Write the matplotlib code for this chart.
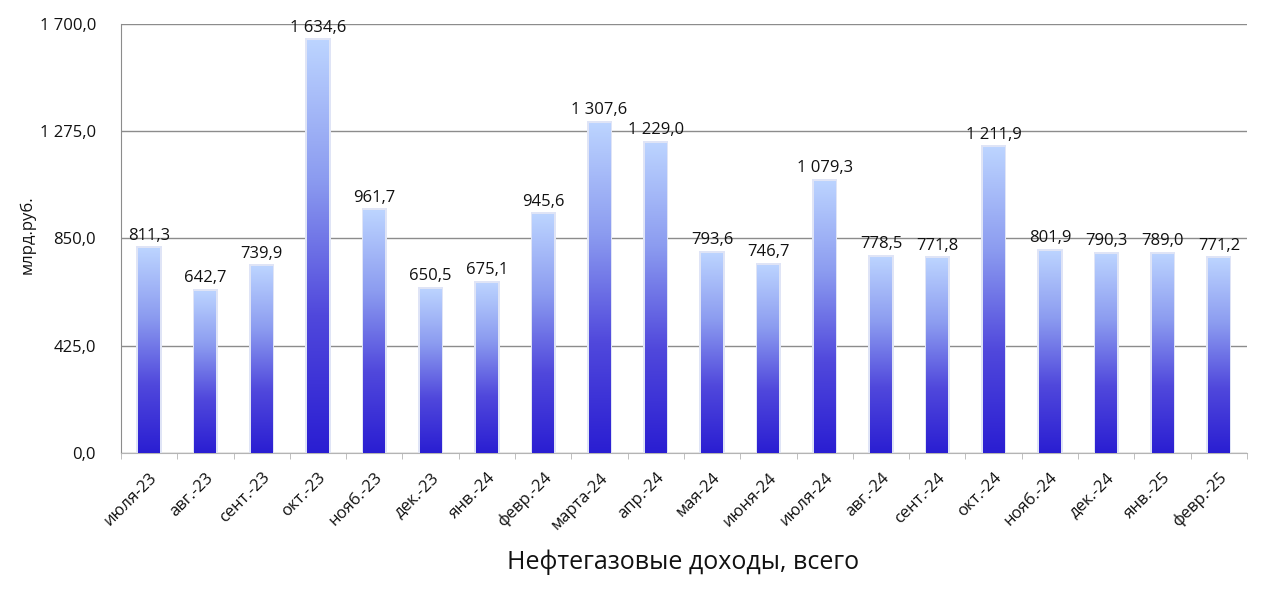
import numpy as np
import matplotlib.pyplot as plt
from matplotlib.colors import LinearSegmentedColormap
from matplotlib.ticker import FuncFormatter

plt.rcParams['font.family'] = ['Open Sans', 'DejaVu Sans']

months = ['июля-23', 'авг.-23', 'сент.-23', 'окт.-23', 'нояб.-23', 'дек.-23',
          'янв.-24', 'февр.-24', 'марта-24', 'апр.-24', 'мая-24', 'июня-24',
          'июля-24', 'авг.-24', 'сент.-24', 'окт.-24', 'нояб.-24', 'дек.-24',
          'янв.-25', 'февр.-25']
revenue = [811.3, 642.7, 739.9, 1634.6, 961.7, 650.5, 675.1, 945.6, 1307.6, 1229.0,
           793.6, 746.7, 1079.3, 778.5, 771.8, 1211.9, 801.9, 790.3, 789.0, 771.2]


def fmt(v, pos=None):
    s = f'{v:,.1f}'.replace(',', ' ').replace('.', ',')
    return s


fig = plt.figure(figsize=(12.8, 5.98), dpi=100)
ax = fig.add_axes([0.0945, 0.2425, 0.8797, 0.7174])

x = np.arange(len(months))
bars = ax.bar(x, revenue, width=0.39, color='none', edgecolor='none', zorder=3)

cmap = LinearSegmentedColormap.from_list('grad', ['#bcd4ff', '#8c9cf0', '#5048dc', '#2a1ed2'])
grad = np.linspace(0, 1, 256).reshape(-1, 1)
for b in bars:
    bx, bw, bh = b.get_x(), b.get_width(), b.get_height()
    # soft glow around the bar
    ax.bar(bx + bw / 2, bh + 8, width=bw + 0.06, bottom=0, color='#dfe4f6', zorder=2)
    im = ax.imshow(grad, cmap=cmap, aspect='auto', extent=[bx, bx + bw, 0, bh],
                   origin='upper', zorder=3)
    im.set_clip_path(b)
    ax.text(bx + bw / 2, bh + 18, fmt(bh), ha='center', va='bottom', fontsize=12,
            color='#111111', zorder=4)

ax.set_xlim(-0.5, len(months) - 0.5)
ax.set_ylim(0, 1700)
ax.set_yticks([0, 425, 850, 1275, 1700])
ax.yaxis.set_major_formatter(FuncFormatter(fmt))
ax.grid(axis='y', color='#8c8c8c', linewidth=1.0, zorder=0)
ax.set_axisbelow(True)

ax.set_xticks(x)
ax.set_xticklabels(months, rotation=45, ha='right', rotation_mode='anchor', fontsize=12)
ax.set_xticks(np.arange(-0.5, len(months)), minor=True)
ax.tick_params(axis='x', which='major', length=0, pad=12, labelcolor='#111111')
ax.tick_params(axis='x', which='minor', length=4, color='#b4b4b4')
ax.tick_params(axis='y', length=0, labelsize=12, pad=18, labelcolor='#111111')

for s in ['top', 'right']:
    ax.spines[s].set_visible(False)
ax.spines['left'].set_color('#8c8c8c')
ax.spines['bottom'].set_color('#b4b4b4')

ax.set_ylabel('млрд.руб.', fontsize=12, color='#111111')
ax.yaxis.set_label_coords(-0.076, 0.51)
fig.text(0.534, 0.06, 'Нефтегазовые доходы, всего', ha='center', va='center',
         fontsize=18, color='#111111')

fig.savefig('out.png', dpi=100)
